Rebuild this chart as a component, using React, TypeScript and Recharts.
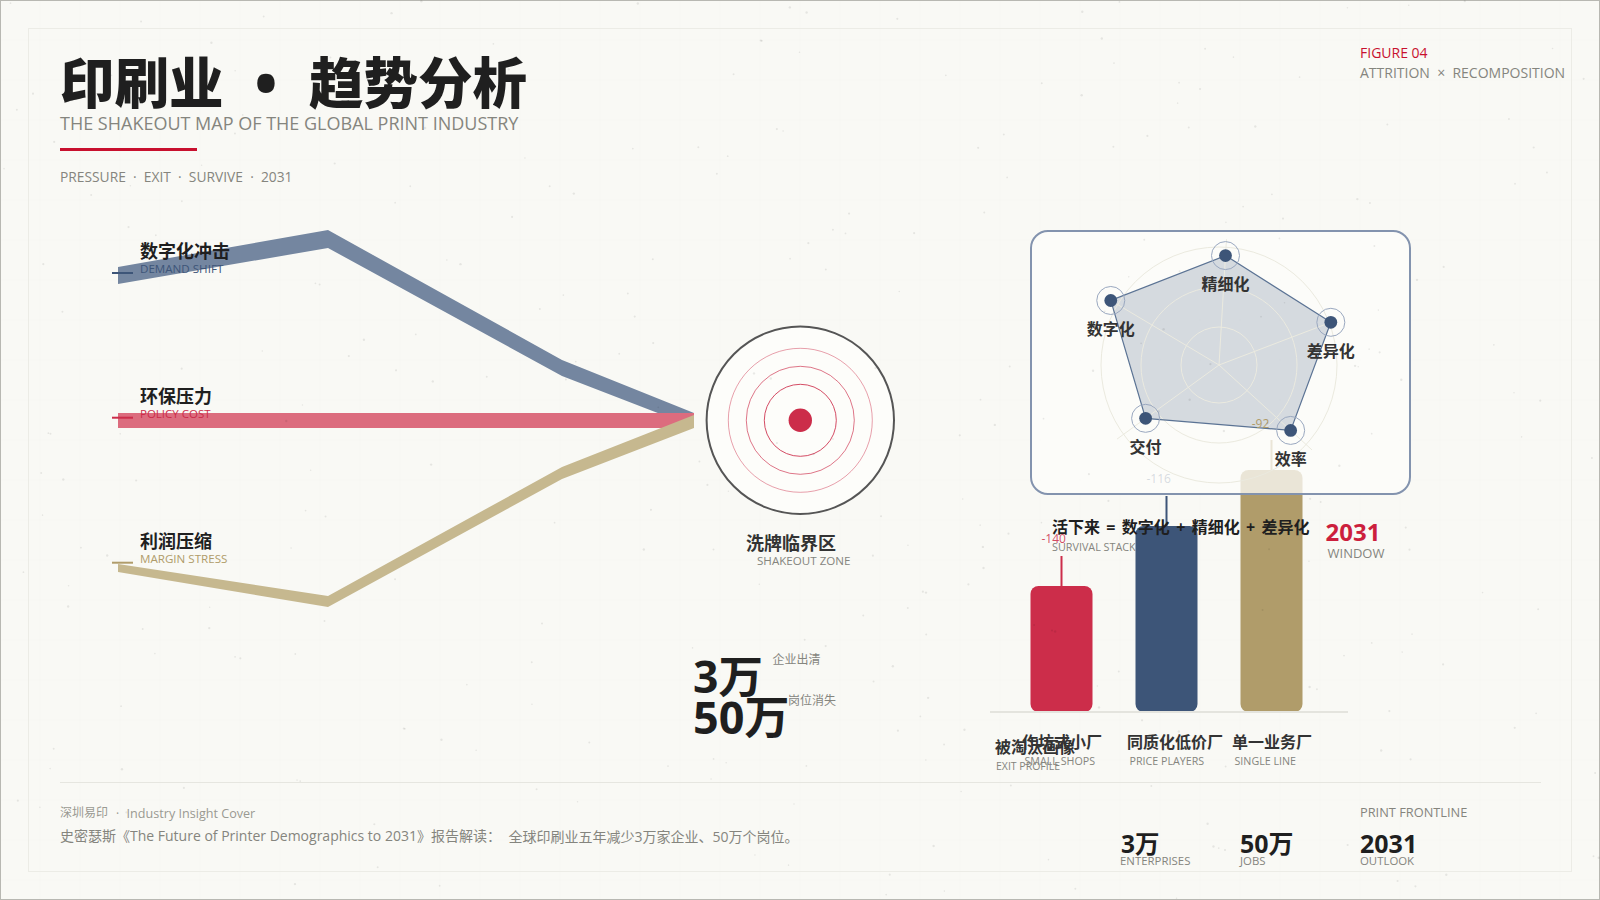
import {
  Area,
  Bar,
  BarChart,
  Cell,
  ComposedChart,
  LabelList,
  PolarAngleAxis,
  PolarGrid,
  PolarRadiusAxis,
  Radar,
  RadarChart,
  XAxis,
  YAxis,
} from "recharts";

const FONT = '"Open Sans", "Noto Sans CJK SC", sans-serif';
const INK = "#1f1f1f";
const GRAY = "#85857e";
const RED = "#c8102e";
const CRIMSON = "#cc2d4a";
const NAVY = "#3d5578";
const TAN = "#b09c6a";

// flow bands: stage position, then [low, high] edge of each band
const flowStages = [8, 218, 452, 584];
const demandLow = [346, 382, 254, 203];
const demandHigh = [363, 400, 270, 217];
const policyLow = [202, 202, 202, 202];
const policyHigh = [217, 217, 217, 217];
const marginLow = [58, 23, 151, 202];
const marginHigh = [66, 34, 163, 215];

const flowRows = flowStages.map((stage, i) => ({
  stage,
  demand: [demandLow[i], demandHigh[i]],
  policy: [policyLow[i], policyHigh[i]],
  margin: [marginLow[i], marginHigh[i]],
}));

const radarNames = ["精细化", "差异化", "效率", "交付", "数字化"];
const radarBearings = [3.4, 69.1, 132.4, 234, 300.8];
const radarScores = [87, 95, 77, 72, 100];
const radarRings = [38, 78, 118];

const radarRows = radarNames.map((name, i) => ({
  name,
  bearing: radarBearings[i],
  score: radarScores[i],
}));

const barNames = ["作坊式小厂", "同质化低价厂", "单一业务厂"];
const barSubs = ["SMALL SHOPS", "PRICE PLAYERS", "SINGLE LINE"];
const barValues = [126, 186, 242];
const barTags = ["-140", "-116", "-92"];
const barColors = [CRIMSON, NAVY, TAN];

const barRows = barNames.map((name, i) => ({ name, value: barValues[i] }));

function Txt(props: {
  x: number;
  y: number;
  size: number;
  fill?: string;
  weight?: number;
  anchor?: "start" | "middle" | "end";
  wordSpacing?: number;
  children: any;
}) {
  return (
    <text
      x={props.x}
      y={props.y}
      fontSize={props.size}
      fill={props.fill ?? GRAY}
      fontWeight={props.weight ?? 400}
      textAnchor={props.anchor ?? "start"}
      dominantBaseline="central"
      fontFamily={FONT}
      wordSpacing={props.wordSpacing}
      xmlSpace="preserve"
    >
      {props.children}
    </text>
  );
}

function Paper() {
  const lines = [];
  for (let v = 40; v < 1600; v += 40) {
    lines.push(<line key={"v" + v} x1={v} y1={0} x2={v} y2={900} stroke="#000" strokeOpacity={0.012} />);
  }
  for (let h = 40; h < 900; h += 40) {
    lines.push(<line key={"h" + h} x1={0} y1={h} x2={1600} y2={h} stroke="#000" strokeOpacity={0.012} />);
  }
  return (
    <svg width={1600} height={900} style={{ position: "absolute", left: 0, top: 0 }}>
      <rect width={1600} height={900} fill="#f9f9f5" />
      {lines}
      <rect x={28.5} y={28.5} width={1543} height={843} fill="none" stroke="#ecece6" />
      <rect x={0.5} y={0.5} width={1599} height={899} fill="none" stroke="#b8b8b2" />
    </svg>
  );
}

function Speckle() {
  const dots = [];
  let seed = 1931;
  for (let i = 0; i < 320; i++) {
    seed = (seed * 7621 + 1) % 65536;
    const x = (seed / 65536) * 1600;
    seed = (seed * 7621 + 1) % 65536;
    const y = (seed / 65536) * 900;
    seed = (seed * 7621 + 1) % 65536;
    dots.push(<circle key={i} cx={x} cy={y} r={0.8 + (seed % 5) / 10} fill="#000" fillOpacity={0.08} />);
  }
  return (
    <svg width={1600} height={900} style={{ position: "absolute", left: 0, top: 0 }}>
      {dots}
    </svg>
  );
}

function FlowChart() {
  return (
    <div style={{ position: "absolute", left: 110, top: 210 }}>
      <ComposedChart
        width={600}
        height={420}
        data={flowRows}
        margin={{ top: 0, right: 0, bottom: 0, left: 0 }}
      >
        <XAxis type="number" dataKey="stage" domain={[0, 600]} hide />
        <YAxis type="number" domain={[0, 420]} hide />
        <Area dataKey="demand" type="linear" fill="#7486a0" fillOpacity={1} stroke="none" dot={false} activeDot={false} isAnimationActive={false} />
        <Area dataKey="policy" type="linear" fill="#dc6c7e" fillOpacity={1} stroke="none" dot={false} activeDot={false} isAnimationActive={false} />
        <Area dataKey="margin" type="linear" fill="#c6b88f" fillOpacity={1} stroke="none" dot={false} activeDot={false} isAnimationActive={false} />
      </ComposedChart>
    </div>
  );
}

function BarTag(props: any) {
  const { x, y, width, index } = props;
  const cx = x + width / 2;
  return (
    <g>
      <line x1={cx} y1={y - 30} x2={cx} y2={y} stroke={barColors[index]} strokeWidth={2} />
      {index < 2 && (
        <text
          x={cx - 20}
          y={y - 48}
          fontSize={12}
          fill={barColors[index]}
          fillOpacity={0.85}
          dominantBaseline="central"
          fontFamily={FONT}
        >
          {barTags[index]}
        </text>
      )}
    </g>
  );
}

function BarTick(props: any) {
  const { x, y, payload, index } = props;
  return (
    <g>
      <text x={x - 39} y={y + 22} fontSize={16} fontWeight={700} fill="#333" dominantBaseline="central" fontFamily={FONT}>
        {payload.value}
      </text>
      <text x={x - 36.5} y={y + 41} fontSize={10.7} fill={GRAY} dominantBaseline="central" fontFamily={FONT}>
        {barSubs[index]}
      </text>
    </g>
  );
}

function ProfileBars() {
  return (
    <div style={{ position: "absolute", left: 990, top: 400 }}>
      <BarChart
        width={358}
        height={372}
        data={barRows}
        margin={{ top: 12, right: 0, bottom: 0, left: 0 }}
      >
        <XAxis
          dataKey="name"
          height={60}
          padding={{ left: 18.5, right: 24.5 }}
          axisLine={{ stroke: "#e4e4de", strokeWidth: 2 }}
          tickLine={false}
          interval={0}
          tick={<BarTick />}
        />
        <YAxis type="number" domain={[0, 300]} hide />
        <Bar dataKey="value" barSize={62} radius={8} isAnimationActive={false}>
          {barRows.map((row, i) => (
            <Cell key={row.name} fill={barColors[i]} />
          ))}
          <LabelList dataKey="value" content={<BarTag />} />
        </Bar>
      </BarChart>
    </div>
  );
}

function RadarDot(props: any) {
  const { cx, cy, payload } = props;
  return (
    <g>
      <circle cx={cx} cy={cy} r={14} fill="none" stroke="#9aa8c0" strokeWidth={1} />
      <circle cx={cx} cy={cy} r={6.4} fill={NAVY} />
      <text
        x={cx}
        y={cy + 28.5}
        fontSize={16}
        fontWeight={700}
        fill="#333"
        textAnchor="middle"
        dominantBaseline="central"
        fontFamily={FONT}
      >
        {payload.name}
      </text>
    </g>
  );
}

function SurvivalRadar() {
  const frame = { position: "absolute" as const, left: 1058.7, top: 205 };
  return (
    <>
      <div style={frame}>
        <RadarChart width={320} height={320} data={radarRows} outerRadius={126} startAngle={90} endAngle={-270}>
          <PolarAngleAxis dataKey="bearing" type="number" domain={[0, 360]} tick={false} axisLine={false} />
          <PolarRadiusAxis type="number" domain={[0, 100]} tick={false} axisLine={false} />
          <Radar dataKey="score" stroke="none" fill={NAVY} fillOpacity={0.2} dot={false} isAnimationActive={false} />
        </RadarChart>
      </div>
      <div style={frame}>
        <RadarChart width={320} height={320} data={radarRows} outerRadius={126} startAngle={90} endAngle={-270}>
          <PolarGrid
            gridType="circle"
            polarRadius={radarRings}
            polarAngles={radarBearings.map((b) => 90 - b)}
            outerRadius={96}
            stroke="#ebeadf"
          />
          <PolarAngleAxis dataKey="bearing" type="number" domain={[0, 360]} tick={false} axisLine={false} />
          <PolarRadiusAxis type="number" domain={[0, 100]} tick={false} axisLine={false} />
          <Radar
            dataKey="score"
            stroke="#5b7394"
            strokeWidth={1.2}
            fill="none"
            dot={<RadarDot />}
            isAnimationActive={false}
          />
        </RadarChart>
      </div>
    </>
  );
}

function TargetDial() {
  return (
    <g>
      <circle cx={800.3} cy={420.3} r={93.7} fill="#fdfdfa" stroke="#555" strokeWidth={2} />
      <circle cx={800.3} cy={420.3} r={72} fill="none" stroke={CRIMSON} strokeOpacity={0.45} />
      <circle cx={800.3} cy={420.3} r={54} fill="none" stroke={CRIMSON} strokeOpacity={0.65} />
      <circle cx={800.3} cy={420.3} r={36} fill="none" stroke={CRIMSON} strokeOpacity={0.85} />
      <circle cx={800.3} cy={420.3} r={11.7} fill={CRIMSON} />
    </g>
  );
}

function Overlay() {
  return (
    <svg width={1600} height={900} style={{ position: "absolute", left: 0, top: 0 }}>
      <Txt x={60} y={82} size={54.5} weight={900} fill={INK}>
        印刷业
        <tspan x={266} textAnchor="middle">•</tspan>
        <tspan x={309}>趋势分析</tspan>
      </Txt>
      <Txt x={60} y={122.5} size={18}>THE SHAKEOUT MAP OF THE GLOBAL PRINT INDUSTRY</Txt>
      <rect x={60} y={148} width={137} height={3} fill={RED} />
      <Txt x={60} y={176.5} size={13.8}>PRESSURE  ·  EXIT  ·  SURVIVE  ·  2031</Txt>

      <Txt x={1360} y={52.5} size={14} fill={RED}>FIGURE 04</Txt>
      <Txt x={1360} y={72.5} size={14}>ATTRITION  ×  RECOMPOSITION</Txt>

      <line x1={112} y1={273} x2={133} y2={273} stroke={NAVY} strokeWidth={2} />
      <line x1={112} y1={417.7} x2={133} y2={417.7} stroke={CRIMSON} strokeWidth={2} />
      <line x1={112} y1={562.7} x2={133} y2={562.7} stroke={TAN} strokeWidth={2} />

      <Txt x={140} y={250.5} size={18} weight={700} fill={INK}>数字化冲击</Txt>
      <Txt x={140} y={268.5} size={11.6} fill={NAVY}>DEMAND SHIFT</Txt>
      <Txt x={140} y={396} size={18} weight={700} fill={INK}>环保压力</Txt>
      <Txt x={140} y={413.5} size={11.5} fill={CRIMSON}>POLICY COST</Txt>
      <Txt x={140} y={541} size={18} weight={700} fill={INK}>利润压缩</Txt>
      <Txt x={140} y={558.5} size={11.6} fill={TAN}>MARGIN STRESS</Txt>

      <TargetDial />
      <Txt x={791} y={543} size={18} weight={700} fill="#333" anchor="middle">洗牌临界区</Txt>
      <Txt x={757} y={560.5} size={11.6}>SHAKEOUT ZONE</Txt>

      <Txt x={693} y={675} size={44.5} weight={700} fill={INK}>3万</Txt>
      <Txt x={693} y={716} size={45} weight={700} fill={INK}>50万</Txt>
      <Txt x={772.5} y={659} size={12}>企业出清</Txt>
      <Txt x={788} y={700.7} size={12}>岗位消失</Txt>

      <Txt x={1251.7} y={423} size={12} fill={TAN}>{barTags[2]}</Txt>

      <Txt x={1052} y={527} size={16} weight={700} fill={INK} wordSpacing={2.2}>活下来 = 数字化 + 精细化 + 差异化</Txt>
      <Txt x={1052} y={546.5} size={10.8}>SURVIVAL STACK</Txt>
      <Txt x={1325.5} y={531} size={24} weight={700} fill="#cc1f3d">2031</Txt>
      <Txt x={1327.5} y={553} size={13}>WINDOW</Txt>

      <Txt x={995} y={746.7} size={16} weight={700} fill="#333">被淘汰画像</Txt>
      <Txt x={996} y={766} size={10.5}>EXIT PROFILE</Txt>

      <line x1={60} y1={782.5} x2={1541} y2={782.5} stroke="#e6e6e0" />
      <Txt x={60} y={812.7} size={12} fill="#9a9a92">
        深圳易印
        <tspan x={116}>·</tspan>
        <tspan x={126.6} fontSize={12.6}>Industry Insight Cover</tspan>
      </Txt>
      <Txt x={60} y={835.5} size={14}>
        史密瑟斯《The Future of Printer Demographics to 2031》报告解读：
        <tspan x={508.5}>全球印刷业五年减少3万家企业、50万个岗位。</tspan>
      </Txt>

      <Txt x={1360} y={812.3} size={12.8}>PRINT FRONTLINE</Txt>
      <Txt x={1121} y={843} size={24.5} weight={700} fill={INK}>3万</Txt>
      <Txt x={1120} y={860} size={11.4}>ENTERPRISES</Txt>
      <Txt x={1240} y={843} size={25} weight={700} fill={INK}>50万</Txt>
      <Txt x={1240} y={860} size={11.4}>JOBS</Txt>
      <Txt x={1360} y={843} size={25} weight={700} fill={INK}>2031</Txt>
      <Txt x={1360} y={860} size={11.4}>OUTLOOK</Txt>
    </svg>
  );
}

export default function App() {
  return (
    <div style={{ position: "fixed", left: 0, top: 0, width: 1600, height: 900, overflow: "hidden" }}>
      <Paper />
      <FlowChart />
      <ProfileBars />
      <div
        style={{
          position: "absolute",
          left: 1030,
          top: 230,
          width: 377,
          height: 261,
          borderRadius: 18,
          border: "2px solid #8393ae",
          background: "rgba(253,253,250,0.76)",
        }}
      />
      <SurvivalRadar />
      <Overlay />
      <Speckle />
    </div>
  );
}
